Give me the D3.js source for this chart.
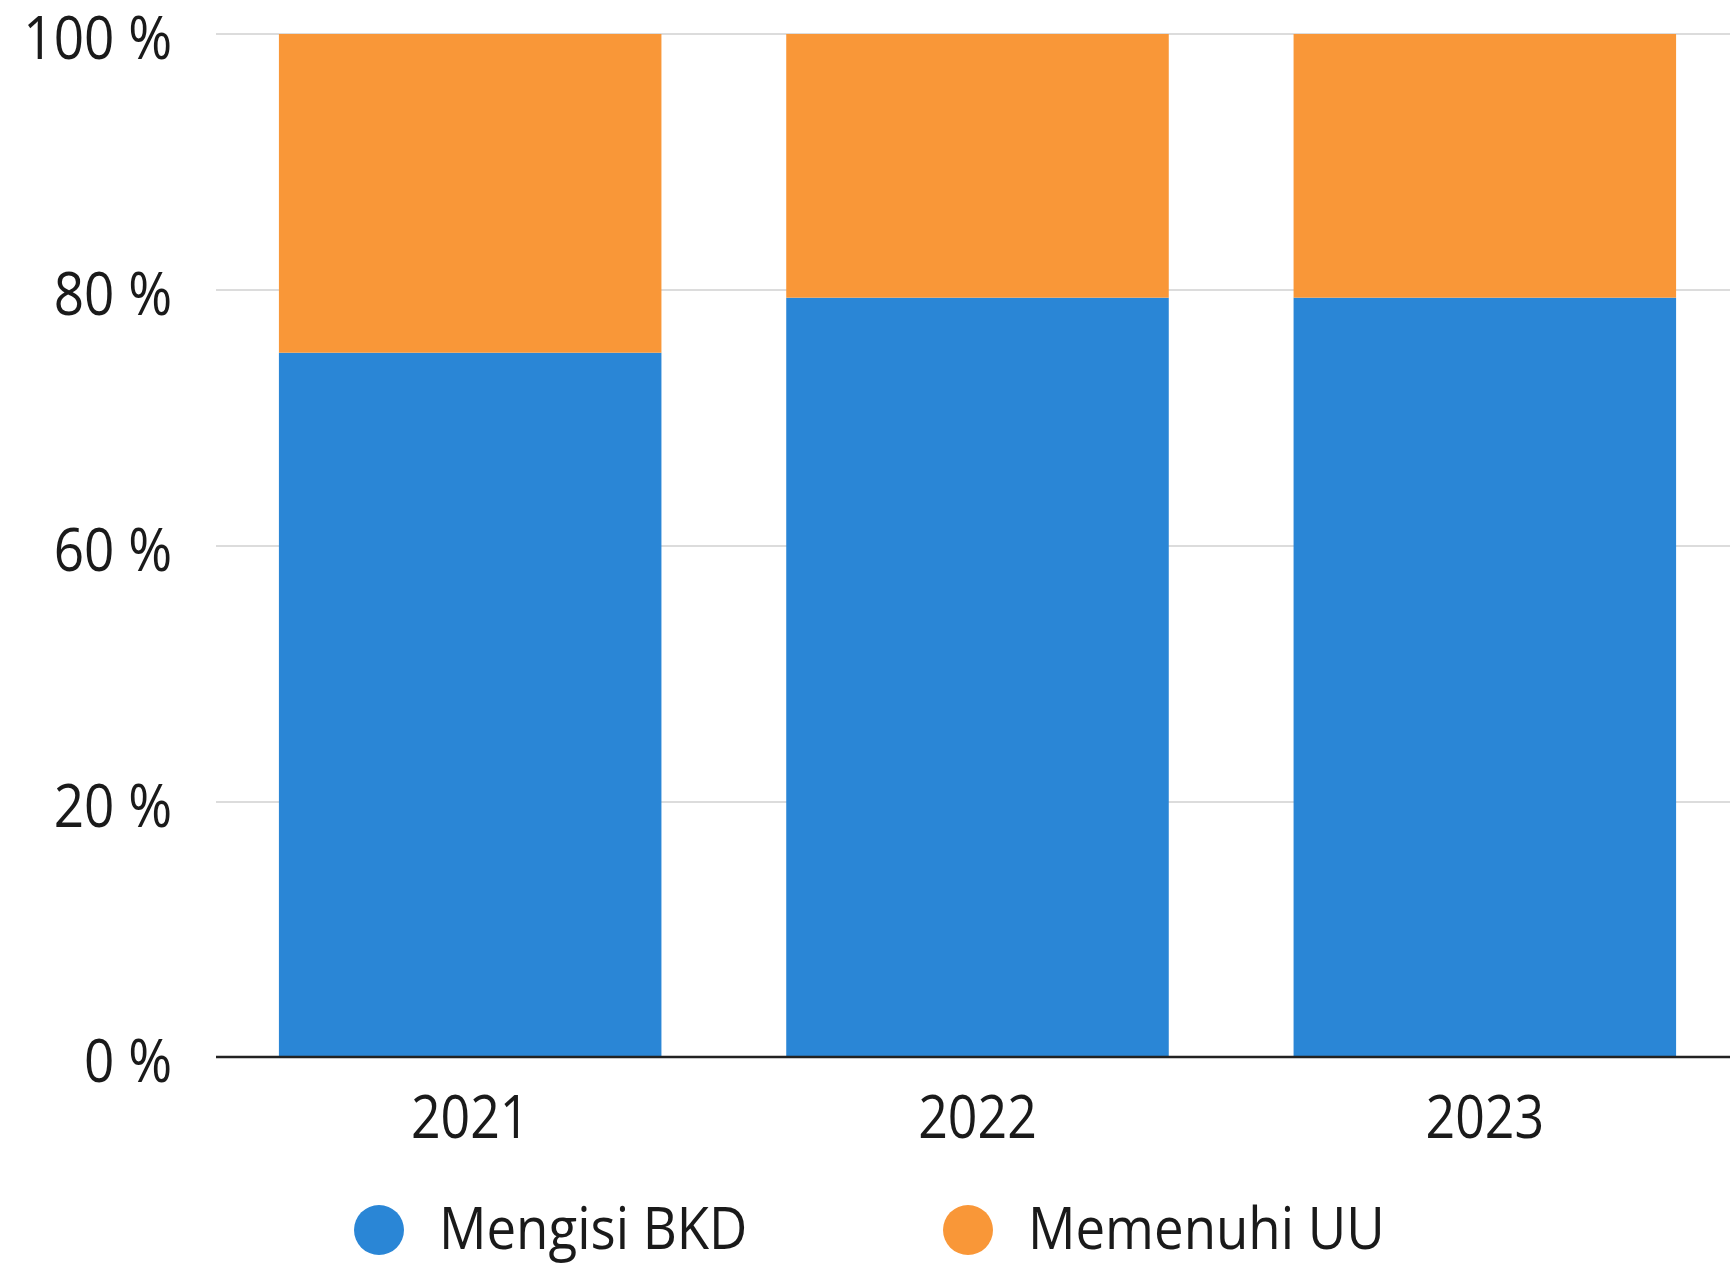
<!DOCTYPE html>
<html>
<head>
<meta charset="utf-8">
<script src="https://cdn.jsdelivr.net/npm/d3@7"></script>
<style>
  html, body { margin: 0; padding: 0; background: #ffffff; }
  svg { display: block; }
  text { font-family: "Open Sans", "Noto Sans", sans-serif; fill: #1a1a1a; }
</style>
</head>
<body>
<svg id="chart" width="1730" height="1264"></svg>
<script>
// ---- data ----
const years = ["2021", "2022", "2023"];
const seriesNames = ["Mengisi BKD", "Memenuhi UU"];
const mengisiBKD = [75.1, 79.4, 79.4];
const memenuhiUU = [24.9, 20.6, 20.6];
const tickValues = [0, 20, 60, 80, 100];
const tickLabels = ["0 %", "20 %", "60 %", "80 %", "100 %"];
const colors = ["#2a86d6", "#f99738"];

const W = 1730, H = 1264;
const svg = d3.select("#chart");
const SX = 0.87;   // condensed text for y tick labels
const SXX = 0.85;  // x labels
const SXL = 0.895; // legend text

// y scale (tick positions are evenly spaced as in the reference)
const y = d3.scaleLinear()
  .domain(tickValues)
  .range([1057, 802, 546, 290, 34]);

const x = d3.scaleBand()
  .domain(years)
  .range([216, 1739])
  .paddingInner(0.246)
  .paddingOuter(0.124);

// gridlines
svg.append("g")
  .selectAll("line")
  .data(tickValues.filter(v => v !== 0))
  .join("line")
  .attr("x1", 216).attr("x2", W)
  .attr("y1", d => y(d)).attr("y2", d => y(d))
  .attr("stroke", "#dcdcdc").attr("stroke-width", 2);

// stacked data
const table = years.map((yr, i) => ({ year: yr, "Mengisi BKD": mengisiBKD[i], "Memenuhi UU": memenuhiUU[i] }));
const stack = d3.stack().keys(seriesNames)(table);

svg.append("g")
  .selectAll("g")
  .data(stack)
  .join("g")
  .attr("fill", (d, i) => colors[i])
  .selectAll("rect")
  .data(d => d)
  .join("rect")
  .attr("x", d => x(d.data.year))
  .attr("width", x.bandwidth())
  .attr("y", d => y(Math.min(100, d[1])))
  .attr("height", d => y(d[0]) - y(Math.min(100, d[1])));

// baseline axis
svg.append("line")
  .attr("x1", 216).attr("x2", W)
  .attr("y1", y(0)).attr("y2", y(0))
  .attr("stroke", "#222").attr("stroke-width", 2.5);

// y tick labels
svg.append("g")
  .selectAll("text")
  .data(tickValues)
  .join("text")
  .attr("transform", d => `translate(172,${y(d) + 25}) scale(${SX},1)`)
  .attr("text-anchor", "end")
  .attr("font-size", 61)
  .text((d, i) => tickLabels[i]);

// x labels
svg.append("g")
  .selectAll("text")
  .data(years)
  .join("text")
  .attr("transform", d => `translate(${x(d) + x.bandwidth() / 2},1138) scale(${SXX},1)`)
  .attr("text-anchor", "middle")
  .attr("font-size", 61)
  .text(d => d);

// legend
const legendX = [379, 968];
const lg = svg.append("g")
  .selectAll("g")
  .data(seriesNames)
  .join("g")
  .attr("transform", (d, i) => `translate(${legendX[i]},1230)`);
lg.append("circle").attr("r", 25).attr("fill", (d, i) => colors[i]);
lg.append("text")
  .attr("transform", `translate(60,19) scale(${SXL},1)`)
  .attr("font-size", 59)
  .text(d => d);
</script>
</body>
</html>
